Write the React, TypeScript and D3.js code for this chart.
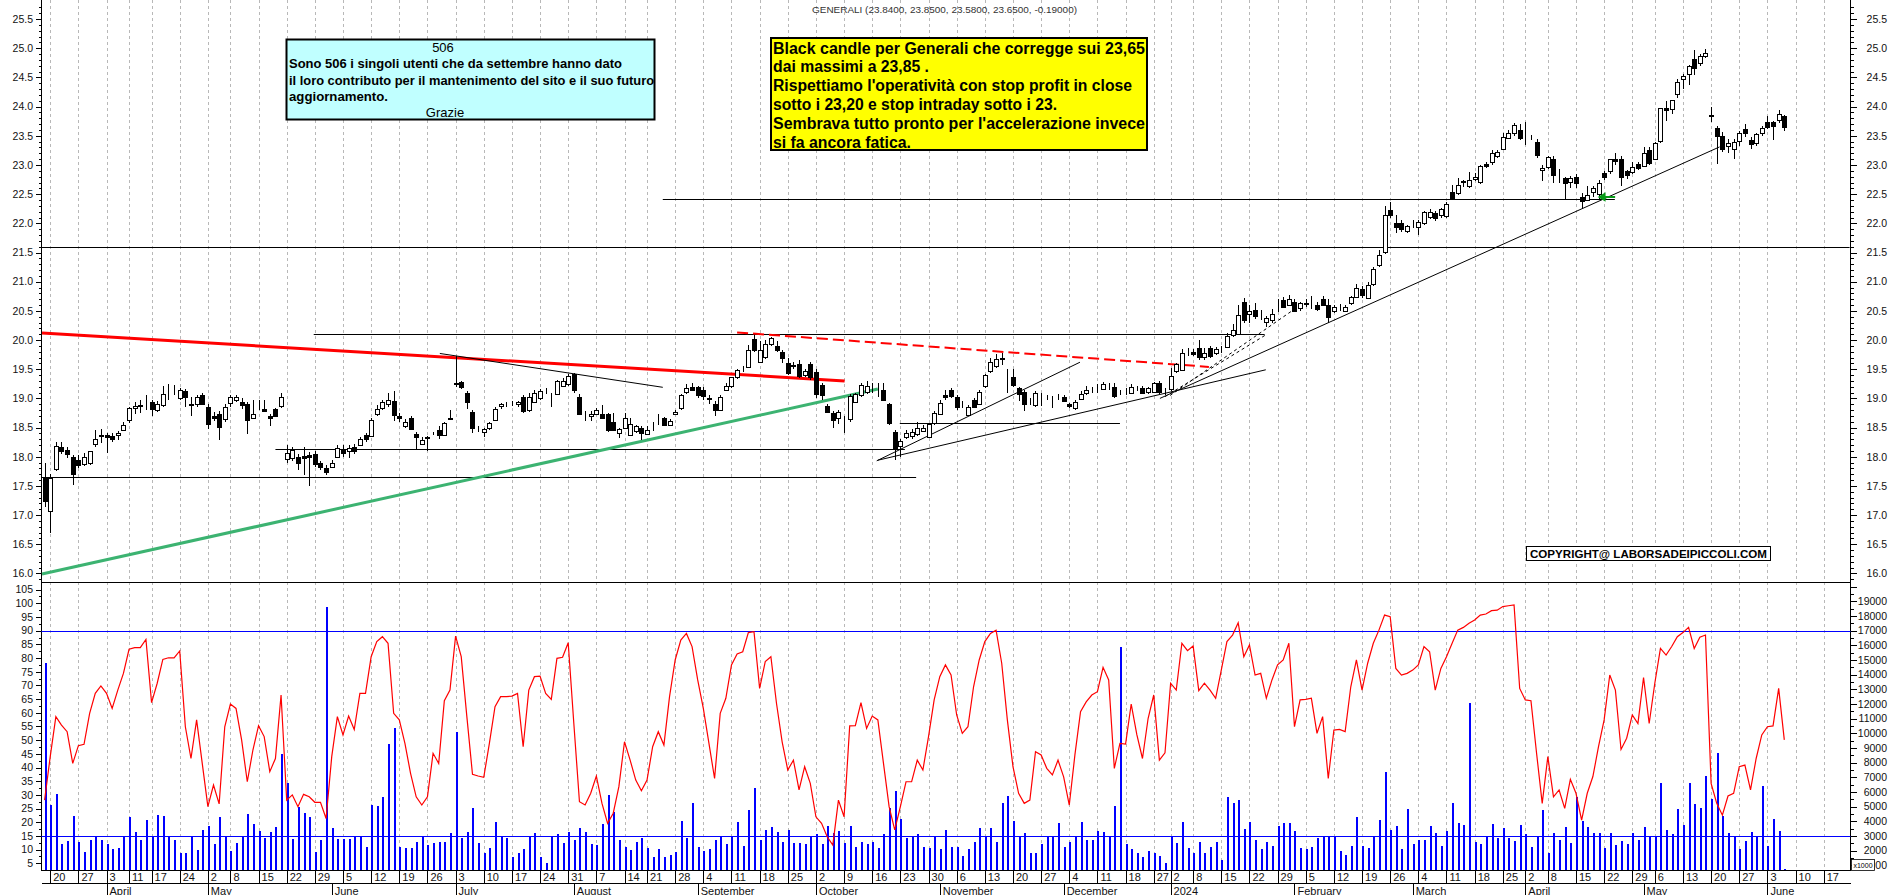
import React, { useRef, useEffect } from "react";
import * as d3 from "d3";

// Borsa Italiana closing days inside the range
const holidays = ["2023-04-07", "2023-04-10", "2023-05-01", "2023-08-15", "2023-12-25", "2023-12-26", "2024-01-01", "2024-03-29", "2024-04-01", "2024-05-01"];
const monthNames = ["2024", "February", "March", "April", "May", "June", "July", "August", "September", "October", "November", "December"];

const opens = [
  17.63, 17.06, 17.8, 18.17, 18.12, 18.0, 17.95, 17.87, 17.89, 18.23,
  18.37, 18.37, 18.36, 18.37, 18.47, 18.62, 18.83, 18.87, 18.95, 18.93,
  18.81, 18.88, 19.13, 19.13, 19.02, 19.13, 18.88, 18.9, 19.05, 18.86,
  18.7, 18.73, 18.65, 18.91, 18.97, 18.93, 18.9, 18.67, 18.88, 18.82,
  18.7, 18.82, 18.86, 17.96, 17.97, 18.0, 18.01, 18.03, 18.05, 17.89,
  17.8, 17.83, 18.0, 18.14, 18.1, 18.17, 18.2, 18.37, 18.36, 18.72,
  18.83, 18.9, 18.95, 18.69, 18.54, 18.67, 18.39, 18.23, 18.33, 18.4,
  18.46, 18.37, 18.65, 19.27, 19.28, 19.09, 18.76, 18.49, 18.42, 18.5,
  18.64, 18.86, 18.9, 18.9, 18.9, 19.02, 18.79, 18.95, 19.0, 19.13,
  19.07, 19.07, 19.21, 19.25, 19.42, 19.03, 18.72, 18.7, 18.74, 18.73,
  18.73, 18.6, 18.41, 18.49, 18.38, 18.43, 18.49, 18.4, 18.53, 18.57,
  18.66, 18.55, 18.74, 18.83, 19.11, 19.2, 19.19, 19.14, 19.0, 18.9,
  18.8, 19.15, 19.2, 19.36, 19.5, 19.54, 20.01, 19.63, 19.71, 19.94,
  19.89, 19.8, 19.6, 19.56, 19.59, 19.4, 19.59, 19.46, 19.23, 18.87,
  18.75, 18.66, 18.66, 18.64, 18.94, 19.06, 19.1, 19.17, 19.15, 19.14,
  18.9, 18.43, 18.19, 18.35, 18.37, 18.38, 18.45, 18.34, 18.58, 18.74,
  19.06, 19.14, 19.03, 18.89, 18.72, 18.97, 18.9, 19.21, 19.47, 19.55,
  19.7, 19.47, 19.36, 19.17, 19.11, 18.95, 18.89, 19.04, 19.02, 18.98,
  19.04, 19.03, 18.9, 18.83, 19.0, 19.09, 19.15, 19.15, 19.16, 19.21,
  19.19, 19.11, 19.11, 19.1, 19.17, 19.18, 19.11, 19.11, 19.26, 19.13,
  19.15, 19.47, 19.49, 19.8, 19.8, 19.86, 19.7, 19.86, 19.78, 19.83,
  19.89, 20.09, 20.11, 20.65, 20.45, 20.51, 20.44, 20.31, 20.34, 20.53,
  20.69, 20.6, 20.66, 20.54, 20.64, 20.64, 20.6, 20.71, 20.6, 20.49,
  20.57, 20.5, 20.62, 20.74, 20.87, 20.73, 20.95, 21.29, 21.51, 22.23,
  22.0, 22.0, 21.87, 21.99, 21.94, 22.01, 22.12, 22.17, 22.13, 22.13,
  22.53, 22.53, 22.7, 22.64, 22.77, 22.71, 23.01, 23.04, 23.17, 23.27,
  23.47, 23.55, 23.6, 23.47, 23.47, 23.4, 22.91, 22.96, 23.1, 22.87,
  22.77, 22.72, 22.8, 22.46, 22.4, 22.54, 22.51, 22.86, 22.9, 23.1,
  23.1, 22.9, 22.88, 23.01, 22.98, 23.26, 23.1, 23.4, 23.97, 23.95,
  24.23, 24.47, 24.56, 24.81, 24.74, 24.87, 23.86, 23.64, 23.5, 23.33,
  23.28, 23.4, 23.61, 23.43, 23.37, 23.54, 23.74, 23.74, 23.77, 23.84,
];

const highs = [
  17.89, 17.71, 18.26, 18.26, 18.16, 18.03, 18.03, 18.06, 18.1, 18.45,
  18.48, 18.4, 18.4, 18.44, 18.6, 18.85, 18.94, 18.98, 19.06, 18.97,
  18.95, 19.22, 19.25, 19.23, 19.17, 19.16, 19.03, 19.06, 19.1, 18.9,
  18.76, 18.78, 18.9, 19.05, 19.06, 19.0, 18.94, 18.97, 18.98, 18.98,
  18.74, 18.84, 19.09, 18.2, 18.17, 18.05, 18.17, 18.08, 18.1, 17.92,
  17.85, 17.95, 18.2, 18.2, 18.2, 18.21, 18.33, 18.4, 18.66, 18.88,
  18.97, 19.1, 19.12, 18.75, 18.64, 18.7, 18.42, 18.34, 18.36, 18.43,
  18.52, 18.59, 18.8, 19.73, 19.3, 19.12, 18.8, 18.52, 18.5, 18.6,
  18.86, 18.92, 18.93, 18.95, 18.96, 19.05, 19.1, 19.15, 19.16, 19.18,
  19.1, 19.31, 19.35, 19.42, 19.43, 19.08, 18.78, 18.78, 18.83, 18.88,
  18.75, 18.75, 18.5, 18.75, 18.66, 18.55, 18.52, 18.52, 18.6, 18.74,
  18.68, 18.65, 18.8, 19.08, 19.24, 19.26, 19.22, 19.2, 19.05, 18.95,
  19.06, 19.27, 19.36, 19.5, 19.56, 19.91, 20.08, 19.98, 20.0, 20.06,
  19.98, 19.83, 19.7, 19.62, 19.65, 19.5, 19.63, 19.5, 19.26, 18.9,
  18.78, 18.8, 18.7, 19.08, 19.09, 19.26, 19.3, 19.26, 19.27, 19.27,
  18.92, 18.45, 18.3, 18.45, 18.47, 18.59, 18.55, 18.58, 18.78, 18.98,
  19.14, 19.17, 19.05, 18.95, 18.88, 19.0, 19.15, 19.41, 19.7, 19.76,
  19.78, 19.5, 19.5, 19.2, 19.14, 19.0, 19.12, 19.09, 19.06, 19.04,
  19.07, 19.06, 18.92, 18.97, 19.12, 19.22, 19.2, 19.25, 19.28, 19.26,
  19.26, 19.15, 19.18, 19.24, 19.22, 19.22, 19.2, 19.28, 19.29, 19.18,
  19.52, 19.6, 19.85, 19.86, 19.85, 20.0, 19.86, 19.9, 19.88, 19.9,
  20.12, 20.27, 20.6, 20.72, 20.6, 20.64, 20.52, 20.42, 20.53, 20.71,
  20.74, 20.77, 20.7, 20.66, 20.7, 20.75, 20.66, 20.76, 20.7, 20.6,
  20.62, 20.6, 20.76, 20.96, 20.92, 21.0, 21.25, 21.55, 22.3, 22.36,
  22.15, 22.05, 21.98, 22.06, 22.06, 22.22, 22.24, 22.22, 22.27, 22.36,
  22.66, 22.77, 22.75, 22.88, 22.86, 23.0, 23.06, 23.26, 23.26, 23.54,
  23.6, 23.72, 23.7, 23.73, 23.52, 23.44, 23.0, 23.16, 23.15, 22.93,
  22.8, 22.82, 22.84, 22.52, 22.64, 22.64, 22.74, 22.9, 23.11, 23.2,
  23.15, 22.92, 23.05, 23.05, 23.3, 23.3, 23.4, 23.98, 24.1, 24.12,
  24.48, 24.56, 24.72, 24.97, 24.91, 24.99, 24.0, 23.66, 23.56, 23.45,
  23.45, 23.58, 23.7, 23.48, 23.55, 23.66, 23.84, 23.76, 23.95, 23.85,
];

const lows = [
  17.14, 16.69, 17.76, 18.05, 17.98, 17.52, 17.8, 17.84, 17.86, 18.17,
  18.23, 18.07, 18.25, 18.28, 18.45, 18.58, 18.74, 18.75, 18.8, 18.69,
  18.76, 18.85, 18.97, 19.05, 18.98, 18.86, 18.69, 18.86, 18.88, 18.48,
  18.62, 18.28, 18.6, 18.85, 18.94, 18.82, 18.39, 18.64, 18.8, 18.76,
  18.53, 18.68, 18.84, 17.89, 17.92, 17.78, 17.68, 17.49, 17.83, 17.78,
  17.68, 17.8, 17.97, 18.0, 17.97, 18.05, 18.18, 18.26, 18.33, 18.7,
  18.8, 18.85, 18.62, 18.6, 18.5, 18.45, 18.12, 18.2, 18.1, 18.37,
  18.3, 18.35, 18.63, 19.2, 19.16, 18.82, 18.4, 18.43, 18.33, 18.45,
  18.62, 18.82, 18.85, 18.87, 18.86, 18.75, 18.76, 18.92, 18.98, 19.08,
  18.86, 19.05, 19.19, 19.22, 19.1, 18.72, 18.62, 18.62, 18.72, 18.64,
  18.42, 18.44, 18.32, 18.47, 18.36, 18.4, 18.28, 18.38, 18.44, 18.55,
  18.52, 18.53, 18.72, 18.8, 19.08, 19.12, 19.0, 18.98, 18.9, 18.69,
  18.78, 19.12, 19.18, 19.33, 19.46, 19.52, 19.8, 19.6, 19.68, 19.9,
  19.8, 19.6, 19.4, 19.5, 19.35, 19.36, 19.32, 19.0, 18.98, 18.75,
  18.5, 18.56, 18.4, 18.6, 18.92, 19.02, 19.08, 19.1, 19.02, 18.95,
  18.55, 17.95, 18.0, 18.3, 18.3, 18.36, 18.42, 18.32, 18.55, 18.72,
  18.98, 19.0, 18.8, 18.83, 18.7, 18.83, 18.88, 19.18, 19.44, 19.52,
  19.58, 19.1, 19.2, 18.95, 18.78, 18.88, 18.86, 18.87, 18.97, 18.83,
  18.98, 18.94, 18.83, 18.8, 18.98, 19.06, 19.1, 19.09, 19.14, 19.15,
  19.0, 19.06, 19.06, 19.08, 19.12, 19.08, 19.08, 19.09, 19.08, 19.06,
  19.12, 19.44, 19.47, 19.72, 19.72, 19.65, 19.66, 19.7, 19.74, 19.77,
  19.86, 20.05, 20.08, 20.3, 20.3, 20.36, 20.34, 20.22, 20.3, 20.48,
  20.55, 20.58, 20.48, 20.5, 20.56, 20.54, 20.5, 20.58, 20.3, 20.46,
  20.5, 20.48, 20.6, 20.72, 20.72, 20.7, 20.92, 21.26, 21.48, 22.1,
  21.83, 21.86, 21.84, 21.92, 21.8, 21.98, 22.08, 22.04, 22.1, 22.1,
  22.4, 22.48, 22.62, 22.6, 22.72, 22.68, 22.95, 23.0, 23.12, 23.25,
  23.44, 23.5, 23.42, 23.35, 23.42, 23.12, 22.73, 22.94, 22.7, 22.7,
  22.4, 22.6, 22.6, 22.27, 22.38, 22.45, 22.4, 22.74, 22.85, 23.0,
  22.64, 22.76, 22.84, 22.92, 22.96, 23.0, 23.08, 23.38, 23.76, 23.88,
  24.14, 24.3, 24.37, 24.55, 24.7, 24.83, 23.74, 23.02, 23.22, 23.2,
  23.1, 23.32, 23.48, 23.27, 23.32, 23.5, 23.62, 23.42, 23.72, 23.58,
];

const closes = [
  17.23, 17.63, 18.19, 18.1, 18.05, 17.71, 17.87, 17.99, 18.09, 18.31,
  18.38, 18.33, 18.31, 18.41, 18.55, 18.83, 18.87, 18.88, 18.95, 18.81,
  18.91, 19.07, 19.13, 19.13, 19.15, 19.02, 18.9, 19.02, 18.9, 18.57,
  18.67, 18.51, 18.86, 19.02, 19.02, 18.88, 18.62, 18.73, 18.88, 18.79,
  18.66, 18.7, 19.02, 18.06, 18.11, 17.9, 17.98, 18.0, 17.88, 17.82,
  17.73, 17.9, 18.15, 18.07, 18.15, 18.1, 18.31, 18.31, 18.63, 18.81,
  18.93, 18.97, 18.71, 18.65, 18.6, 18.48, 18.34, 18.29, 18.32, 18.4,
  18.37, 18.57, 18.66, 19.25, 19.19, 18.93, 18.49, 18.49, 18.47, 18.58,
  18.82, 18.9, 18.9, 18.9, 18.93, 18.78, 19.02, 19.1, 19.12, 19.13,
  19.07, 19.29, 19.29, 19.39, 19.15, 18.74, 18.72, 18.74, 18.8, 18.67,
  18.46, 18.46, 18.47, 18.66, 18.56, 18.52, 18.4, 18.46, 18.53, 18.57,
  18.54, 18.62, 18.77, 19.06, 19.18, 19.15, 19.06, 19.03, 18.98, 18.8,
  19.03, 19.21, 19.36, 19.48, 19.5, 19.83, 19.83, 19.83, 19.94, 20.04,
  19.83, 19.69, 19.43, 19.58, 19.38, 19.47, 19.36, 19.09, 19.06, 18.77,
  18.63, 18.76, 18.66, 19.04, 19.07, 19.23, 19.21, 19.17, 19.15, 18.97,
  18.57, 18.14, 18.27, 18.41, 18.43, 18.49, 18.5, 18.56, 18.75, 18.92,
  19.02, 19.04, 18.86, 18.89, 18.86, 18.85, 19.11, 19.4, 19.63, 19.67,
  19.68, 19.47, 19.23, 19.06, 18.91, 18.95, 19.09, 19.04, 19.02, 18.98,
  19.04, 18.96, 18.86, 18.94, 19.08, 19.14, 19.15, 19.15, 19.24, 19.21,
  19.03, 19.11, 19.11, 19.2, 19.17, 19.1, 19.17, 19.26, 19.11, 19.13,
  19.38, 19.59, 19.78, 19.8, 19.77, 19.7, 19.77, 19.73, 19.85, 19.83,
  20.07, 20.17, 20.43, 20.34, 20.5, 20.4, 20.44, 20.38, 20.44, 20.53,
  20.57, 20.71, 20.51, 20.63, 20.62, 20.64, 20.54, 20.6, 20.4, 20.56,
  20.57, 20.56, 20.73, 20.89, 20.76, 20.95, 21.21, 21.46, 22.15, 22.14,
  21.94, 21.9, 21.95, 21.99, 22.03, 22.19, 22.2, 22.09, 22.24, 22.33,
  22.43, 22.66, 22.72, 22.75, 22.8, 22.98, 22.98, 23.2, 23.23, 23.48,
  23.55, 23.69, 23.47, 23.47, 23.47, 23.17, 22.95, 23.13, 22.82, 22.87,
  22.69, 22.78, 22.69, 22.4, 22.48, 22.6, 22.69, 22.79, 23.11, 23.06,
  22.79, 22.83, 22.97, 22.95, 23.21, 23.03, 23.37, 23.97, 23.94, 24.11,
  24.43, 24.52, 24.7, 24.65, 24.86, 24.92, 23.84, 23.5, 23.27, 23.38,
  23.4, 23.54, 23.55, 23.37, 23.53, 23.63, 23.66, 23.68, 23.87, 23.65,
];

// volume in thousands of shares
const volumes = [
  14.8, 5.11, 5.84, 2.45, 2.68, 4.36, 2.57, 1.93, 2.73, 3.0,
  2.73, 2.45, 2.09, 2.2, 3.02, 4.32, 3.25, 2.73, 4.09, 2.95,
  4.43, 4.36, 3.02, 2.73, 1.86, 1.82, 3.02, 2.04, 3.41, 3.68,
  2.43, 4.27, 3.02, 1.97, 2.5, 3.02, 4.48, 3.8, 3.34, 2.84,
  3.25, 3.63, 8.59, 6.59, 2.79, 5.0, 4.54, 4.27, 1.93, 2.73,
  18.64, 3.52, 2.79, 2.79, 2.79, 3.02, 3.02, 2.27, 5.11, 5.07,
  5.68, 9.27, 10.34, 2.27, 2.16, 2.2, 2.57, 3.02, 2.38, 2.5,
  2.57, 2.57, 3.18, 10.11, 2.88, 3.29, 4.88, 2.5, 1.82, 2.16,
  3.93, 3.02, 2.88, 1.59, 1.86, 2.09, 2.95, 3.18, 1.59, 1.13,
  2.91, 3.13, 2.5, 3.29, 2.73, 3.57, 3.29, 2.45, 2.38, 3.8,
  5.79, 4.66, 2.73, 2.27, 2.04, 2.57, 2.88, 2.2, 1.59, 2.11,
  1.54, 1.7, 1.93, 4.04, 2.84, 5.27, 2.27, 1.97, 2.11, 2.73,
  3.02, 2.43, 3.02, 3.93, 2.34, 4.77, 6.25, 2.73, 3.41, 3.59,
  3.25, 2.57, 3.41, 2.5, 2.5, 2.43, 3.02, 3.13, 2.45, 3.7,
  3.18, 3.36, 2.5, 3.7, 2.27, 2.57, 2.43, 2.57, 2.2, 3.11,
  4.93, 6.07, 4.13, 2.88, 3.0, 3.11, 2.27, 2.2, 3.02, 2.09,
  3.41, 2.22, 2.27, 1.63, 2.09, 2.61, 3.52, 2.91, 3.52, 2.61,
  5.23, 5.73, 4.02, 3.02, 3.23, 1.82, 1.86, 2.45, 3.02, 3.02,
  3.91, 2.27, 2.61, 3.02, 3.93, 2.73, 2.73, 3.34, 3.25, 3.02,
  5.04, 15.91, 2.43, 2.09, 1.82, 1.59, 1.97, 1.82, 1.63, 1.13,
  3.02, 2.5, 3.97, 2.16, 1.82, 2.61, 1.86, 2.22, 2.57, 1.36,
  5.68, 5.27, 5.45, 3.47, 3.93, 2.7, 2.11, 2.59, 2.34, 3.68,
  3.86, 3.86, 3.36, 2.16, 2.11, 2.22, 2.88, 3.02, 3.02, 3.02,
  1.95, 1.7, 2.34, 4.27, 2.34, 2.16, 3.02, 4.09, 7.34, 3.41,
  3.68, 2.09, 4.82, 2.43, 2.73, 2.73, 3.68, 3.23, 2.32, 3.34,
  5.27, 3.86, 3.75, 12.05, 2.61, 2.45, 3.02, 3.8, 2.88, 3.52,
  2.88, 2.66, 3.75, 3.13, 2.27, 3.02, 4.77, 1.86, 3.18, 2.73,
  3.59, 2.5, 5.63, 4.04, 3.59, 3.18, 3.18, 2.2, 3.18, 2.38,
  2.68, 2.45, 3.18, 2.73, 3.59, 3.02, 3.02, 6.64, 3.41, 3.13,
  4.82, 3.75, 6.64, 5.16, 4.88, 7.09, 5.52, 8.64, 4.36, 3.23,
  3.02, 2.11, 2.66, 3.25, 3.02, 6.41, 2.34, 4.16, 3.36, 0.75,
];

// oscillator (0-100) plotted as the red line
const oscillator = [
  28.1, 44.0, 58.6, 55.5, 53.1, 41.5, 48.0, 48.5, 59.8, 67.1,
  69.8, 67.1, 61.6, 68.3, 74.4, 83.2, 83.8, 83.8, 86.8, 63.7,
  70.8, 79.5, 80.1, 80.1, 82.6, 54.9, 43.3, 57.4, 41.5, 25.7,
  33.6, 26.7, 54.9, 63.2, 61.6, 50.0, 34.8, 46.4, 55.3, 51.3,
  38.5, 43.3, 66.5, 28.1, 30.0, 25.7, 30.2, 29.3, 27.3, 27.3,
  21.4, 44.0, 58.6, 51.9, 58.8, 53.9, 67.1, 67.1, 80.5, 86.0,
  87.8, 85.4, 59.8, 57.4, 48.8, 37.9, 29.3, 26.3, 29.3, 45.2,
  41.5, 64.4, 68.3, 88.0, 80.5, 58.6, 37.5, 36.9, 36.4, 48.8,
  62.2, 65.9, 65.9, 66.1, 67.1, 47.6, 68.3, 73.2, 73.4, 67.1,
  64.9, 79.9, 80.3, 85.6, 56.1, 27.5, 26.3, 30.6, 36.9, 26.9,
  19.6, 23.3, 33.0, 49.4, 42.7, 35.4, 31.5, 35.4, 47.6, 53.1,
  48.2, 65.9, 79.3, 86.6, 89.0, 84.2, 72.0, 61.6, 48.8, 36.0,
  59.8, 65.3, 77.5, 81.5, 82.3, 89.3, 89.6, 68.9, 78.7, 80.5,
  63.4, 49.4, 39.1, 42.7, 31.8, 40.3, 34.2, 22.0, 19.6, 14.7,
  11.7, 28.1, 22.0, 55.2, 55.3, 63.7, 54.3, 58.8, 57.4, 41.5,
  25.7, 17.2, 25.7, 34.8, 34.8, 42.7, 39.1, 51.3, 64.7, 73.2,
  77.5, 73.8, 59.2, 52.5, 54.9, 69.5, 79.3, 86.0, 89.0, 90.2,
  78.1, 57.4, 40.3, 30.6, 26.9, 28.1, 45.8, 44.6, 39.7, 37.3,
  42.7, 36.6, 26.3, 44.6, 60.4, 64.0, 66.5, 67.7, 76.6, 72.0,
  39.7, 48.8, 48.6, 63.2, 52.0, 43.3, 57.9, 66.5, 42.7, 45.4,
  70.8, 68.3, 85.4, 82.7, 84.4, 68.1, 70.8, 68.3, 65.3, 75.6,
  86.0, 88.4, 92.9, 80.5, 84.8, 73.8, 74.4, 65.3, 72.0, 77.5,
  79.3, 85.4, 54.9, 64.7, 64.9, 65.3, 52.5, 58.6, 36.0, 53.7,
  53.9, 53.1, 69.5, 79.3, 68.3, 78.1, 85.4, 90.2, 95.7, 95.1,
  76.2, 73.8, 74.4, 75.6, 77.5, 84.2, 82.3, 68.3, 76.2, 80.5,
  85.4, 90.2, 91.2, 92.7, 93.9, 95.7, 96.1, 97.3, 97.5, 98.8,
  99.1, 99.4, 68.9, 64.7, 64.4, 45.2, 26.9, 44.0, 29.3, 31.8,
  25.1, 35.7, 30.6, 20.8, 30.6, 36.7, 47.6, 57.4, 73.8, 68.3,
  46.6, 50.7, 59.2, 56.1, 72.9, 56.1, 70.8, 83.5, 81.1, 84.2,
  87.8, 89.3, 91.2, 83.5, 87.6, 88.4, 34.2, 26.9, 22.6, 29.6,
  30.6, 40.3, 40.9, 31.8, 43.3, 51.9, 54.9, 55.2, 68.9, 50.1,
];

const priceTicks = [16, 16.5, 17, 17.5, 18, 18.5, 19, 19.5, 20, 20.5, 21, 21.5, 22, 22.5, 23, 23.5, 24, 24.5, 25, 25.5];
const oscTicks = [5, 10, 15, 20, 25, 30, 35, 40, 45, 50, 55, 60, 65, 70, 75, 80, 85, 90, 95, 100, 105];
const volTicks = [2, 3, 4, 5, 6, 7, 8, 9, 10, 11, 12, 13, 14, 15, 16, 17, 18, 19];
const oscLevels = [90, 15];

// drawn studies, in (bar index, price)
const horizontals = [
  { i1: -0.6, i2: 320.6, p: 21.59 },
  { i1: 109.8, i2: 278.9, p: 22.41 },
  { i1: 47.8, i2: 216.7, p: 20.1 },
  { i1: 41.0, i2: 152.8, p: 18.14 },
  { i1: -0.6, i2: 154.8, p: 17.65 },
  { i1: 151.9, i2: 191.0, p: 18.57 },
];
const thinLines = [
  { i1: 70.2, p1: 19.77, i2: 109.8, p2: 19.19 },
  { i1: 147.8, p1: 17.93, i2: 183.9, p2: 19.62 },
  { i1: 148.0, p1: 17.94, i2: 216.9, p2: 19.49 },
  { i1: 198.1, p1: 19.0, i2: 297.5, p2: 23.31 },
];
const dottedLines = [
  { i1: 199.0, p1: 19.03, i2: 217.1, p2: 20.1 },
  { i1: 199.9, p1: 19.05, i2: 222.6, p2: 20.57 },
];
const redLine = { i1: -0.46, p1: 20.12, i2: 142.1, p2: 19.3 };
const redDashed = { i1: 123.0, p1: 20.13, i2: 206.8, p2: 19.54 };
const greenLine = { i1: -0.46, p1: 15.99, i2: 148.0, p2: 19.16 };
const arrowMark = { i1: 276.9, i2: 278.6, p: 22.45 };

const noteLines = [
  "Black candle per Generali che corregge sui 23,65",
  "dai massimi a 23,85 .",
  "Rispettiamo l'operatività con stop profit in close",
  "sotto i 23,20 e stop intraday sotto i 23.",
  "Sembrava tutto pronto per l'accelerazione invece",
  "si fa ancora fatica.",
];
const noteWidths = [372, 156, 359, 284, 372, 138];
const thanksLines = [
  "Sono 506 i singoli utenti che da settembre hanno dato",
  "il loro contributo per il mantenimento del sito e il suo futuro",
  "aggiornamento.",
];
const thanksWidths = [333, 365, 99];

function tradingDays(count: number) {
  const fmt = d3.timeFormat("%Y-%m-%d");
  const out: Date[] = [];
  const d = new Date(2023, 2, 17);
  while (out.length < count) {
    const dow = d.getDay();
    if (dow !== 0 && dow !== 6 && !holidays.includes(fmt(d))) out.push(new Date(d));
    d.setDate(d.getDate() + 1);
  }
  return out;
}

function App() {
  const svgRef = useRef<SVGSVGElement>(null);

  useEffect(() => {
    const svg = d3.select(svgRef.current);
    svg.selectAll("*").remove();
    const font = "'Liberation Sans', Arial, sans-serif";
    const narrow = "'Liberation Sans Narrow', 'Arial Narrow', 'Liberation Sans', sans-serif";

    const left = 41.5, right = 1850.5, split = 582.5, bottom = 870.5;
    const dates = tradingDays(321);

    const x = d3.scaleLinear().domain([0, 309]).range([44.6, 1784.3]);
    const y = d3.scaleLinear().domain([15.853, 25.828]).range([582, 0]);
    const oy = d3.scaleLinear().domain([2.56, 107.53]).range([870, 582.7]);
    const vy = d3.scaleLinear().domain([0.675, 20.27]).range([870, 582.7]);

    const weekStarts = dates
      .map((d, i) => ({ d, i }))
      .filter(({ d, i }) => i > 0 && d.getDay() <= dates[i - 1].getDay());
    const monthStarts = dates
      .map((d, i) => ({ d, i }))
      .filter(({ d, i }) => i > 0 && d.getMonth() !== dates[i - 1].getMonth());

    // grid
    svg.append("g")
      .selectAll("line")
      .data(weekStarts)
      .enter()
      .append("line")
      .attr("x1", ({ i }) => Math.round(x(i)) + 0.5)
      .attr("x2", ({ i }) => Math.round(x(i)) + 0.5)
      .attr("y1", 0)
      .attr("y2", bottom)
      .attr("stroke", "#b8b8b8")
      .attr("stroke-dasharray", "3,3");

    const frame = svg.append("g").attr("stroke", "#000").attr("shape-rendering", "crispEdges");
    frame.append("line").attr("x1", left).attr("x2", left).attr("y1", 0).attr("y2", bottom);
    frame.append("line").attr("x1", right).attr("x2", right).attr("y1", 0).attr("y2", bottom);
    frame.append("line").attr("x1", left).attr("x2", right).attr("y1", split).attr("y2", split);
    frame.append("line").attr("x1", left).attr("x2", right).attr("y1", bottom).attr("y2", bottom);
    frame.append("line").attr("x1", left).attr("x2", right).attr("y1", 883.5).attr("y2", 883.5);

    // price axis ticks
    const minor = d3.range(159, 258).map((v) => v / 10);
    [[left, -1], [right, 1]].forEach(([ax, dir]) => {
      frame.selectAll(null)
        .data(minor)
        .enter()
        .append("line")
        .attr("x1", ax)
        .attr("x2", (v) => ax + dir * (Math.abs(v * 2 - Math.round(v * 2)) < 0.01 ? 6 : 3))
        .attr("y1", (v) => Math.round(y(v)) + 0.5)
        .attr("y2", (v) => Math.round(y(v)) + 0.5);
    });
    const lbl = svg.append("g").attr("font-family", font).attr("font-size", 10.5).attr("fill", "#111");
    lbl.selectAll(null).data(priceTicks).enter().append("text")
      .attr("x", 33).attr("y", (v) => y(v) + 3.8).attr("text-anchor", "end").text((v) => v.toFixed(1));
    lbl.selectAll(null).data(priceTicks).enter().append("text")
      .attr("x", 1887).attr("y", (v) => y(v) + 3.8).attr("text-anchor", "end").text((v) => v.toFixed(1));

    // lower panel axes
    const oscMinor = d3.range(5, 107, 2.5);
    frame.selectAll(null).data(oscMinor).enter().append("line")
      .attr("x1", left).attr("x2", (v) => left - (v % 5 === 0 ? 6 : 3))
      .attr("y1", (v) => Math.round(oy(v)) + 0.5).attr("y2", (v) => Math.round(oy(v)) + 0.5);
    lbl.selectAll(null).data(oscTicks).enter().append("text")
      .attr("x", 33).attr("y", (v) => oy(v) + 3.8).attr("text-anchor", "end").text((v) => v);
    const volMinor = d3.range(1, 20.1, 0.5);
    frame.selectAll(null).data(volMinor).enter().append("line")
      .attr("x1", right).attr("x2", (v) => right + (v % 1 === 0 ? 6 : 3))
      .attr("y1", (v) => Math.round(vy(v)) + 0.5).attr("y2", (v) => Math.round(vy(v)) + 0.5);
    lbl.selectAll(null).data(volTicks).enter().append("text")
      .attr("x", 1887).attr("y", (v) => vy(v) + 3.8).attr("text-anchor", "end").text((v) => v * 1000);
    // the 1000 label is mostly hidden behind the unit box: only "00" shows
    lbl.append("text").attr("x", 1887).attr("y", vy(1) + 3.8).attr("text-anchor", "end").text("00");
    const xbox = svg.append("g");
    xbox.append("rect").attr("x", 1851.5).attr("y", 859.5).attr("width", 23).attr("height", 11)
      .attr("fill", "#fff").attr("stroke", "#000").attr("stroke-width", 0.8);
    xbox.append("text").attr("x", 1863).attr("y", 868).attr("text-anchor", "middle")
      .attr("font-family", font).attr("font-size", 7).text("x1000");

    // date axis
    const dayRow = svg.append("g");
    dayRow.selectAll("line").data(weekStarts).enter().append("line")
      .attr("x1", ({ i }) => Math.round(x(i)) + 0.5).attr("x2", ({ i }) => Math.round(x(i)) + 0.5)
      .attr("y1", bottom).attr("y2", 883.5).attr("stroke", "#000").attr("shape-rendering", "crispEdges");
    dayRow.selectAll("text").data(weekStarts).enter().append("text")
      .attr("x", ({ i }) => x(i) + 3).attr("y", 881).attr("font-family", narrow).attr("font-size", 11)
      .attr("fill", "#111").text(({ d }) => d.getDate());
    const monthRow = svg.append("g");
    monthRow.selectAll("line").data(monthStarts).enter().append("line")
      .attr("x1", ({ i }) => Math.round(x(i)) + 0.5).attr("x2", ({ i }) => Math.round(x(i)) + 0.5)
      .attr("y1", 883.5).attr("y2", 895).attr("stroke", "#000").attr("shape-rendering", "crispEdges");
    monthRow.selectAll("text").data(monthStarts).enter().append("text")
      .attr("x", ({ i }) => x(i) + 3).attr("y", 894.5).attr("font-family", narrow).attr("font-size", 11)
      .attr("fill", "#111").text(({ d }) => monthNames[d.getMonth()]);

    // studies under candles
    const seg = (g: any, s: any) =>
      g.append("line").attr("x1", x(s.i1)).attr("y1", y(s.p1)).attr("x2", x(s.i2)).attr("y2", y(s.p2));
    const studies = svg.append("g");
    horizontals.forEach((h) =>
      studies.append("line")
        .attr("x1", Math.max(left, x(h.i1))).attr("x2", Math.min(right, x(h.i2)))
        .attr("y1", Math.round(y(h.p)) + 0.5).attr("y2", Math.round(y(h.p)) + 0.5)
        .attr("stroke", "#000").attr("stroke-width", 1.2));
    seg(studies, redLine).attr("stroke", "#ff0000").attr("stroke-width", 3);
    seg(studies, redDashed).attr("stroke", "#ff0000").attr("stroke-width", 2).attr("stroke-dasharray", "11,5");
    seg(studies, greenLine).attr("stroke", "#3cb371").attr("stroke-width", 3);
    thinLines.forEach((s) => seg(studies, s).attr("stroke", "#000").attr("stroke-width", 1));
    dottedLines.forEach((s) => seg(studies, s).attr("stroke", "#000").attr("stroke-width", 1).attr("stroke-dasharray", "3,3"));

    // candles
    const candles = closes.map((c, i) => ({ i, o: opens[i], h: highs[i], l: lows[i], c }));
    const cg = svg.append("g").attr("shape-rendering", "crispEdges");
    cg.selectAll("line").data(candles).enter().append("line")
      .attr("x1", (d) => Math.round(x(d.i)) + 0.5).attr("x2", (d) => Math.round(x(d.i)) + 0.5)
      .attr("y1", (d) => y(d.h)).attr("y2", (d) => y(d.l)).attr("stroke", "#000");
    cg.selectAll("rect").data(candles).enter().append("rect")
      .attr("x", (d) => Math.round(x(d.i)) - 1.5)
      .attr("y", (d) => Math.round(y(Math.max(d.o, d.c))) + 0.5)
      .attr("width", 4)
      .attr("height", (d) => Math.max(0, Math.round(Math.abs(y(d.o) - y(d.c)))))
      .attr("fill", (d) => (d.c >= d.o ? "#fff" : "#000"))
      .attr("stroke", "#000");

    // green arrow
    const ay = y(arrowMark.p);
    svg.append("path")
      .attr("d", `M${x(arrowMark.i1) - 4},${ay} L${x(arrowMark.i1) + 1},${ay - 3} L${x(arrowMark.i1) + 1},${ay + 3} Z M${x(arrowMark.i1)},${ay} L${x(arrowMark.i2) + 2},${ay}`)
      .attr("fill", "#0a9a1a").attr("stroke", "#0a9a1a").attr("stroke-width", 2);

    // volume and oscillator
    const vg = svg.append("g").attr("shape-rendering", "crispEdges");
    vg.selectAll("rect").data(volumes).enter().append("rect")
      .attr("x", (v, i) => Math.round(x(i)) - 0.5)
      .attr("y", (v) => vy(v))
      .attr("width", 2)
      .attr("height", (v) => Math.max(0.5, 870 - vy(v)))
      .attr("fill", "#0000ff");
    oscLevels.forEach((lv) =>
      svg.append("line").attr("x1", left).attr("x2", right)
        .attr("y1", Math.round(oy(lv)) + 0.5).attr("y2", Math.round(oy(lv)) + 0.5)
        .attr("stroke", "#0000ff").attr("stroke-width", 1.2));
    const oscLine = d3.line<number>().x((v, i) => x(i)).y((v) => oy(v));
    svg.append("path").attr("d", oscLine(oscillator)).attr("fill", "none").attr("stroke", "#ff0000").attr("stroke-width", 1.2);

    // title
    svg.append("text").attr("x", 812).attr("y", 12.5).attr("font-family", font).attr("font-size", 9.5)
      .attr("fill", "#333").attr("textLength", 265).attr("lengthAdjust", "spacingAndGlyphs")
      .text(`GENERALI (23.8400, 23.8500, 23.5800, 23.6500, -0.19000)`);

    // notes
    const cy = svg.append("g").attr("font-family", narrow).attr("fill", "#000");
    cy.append("rect").attr("x", 286.5).attr("y", 39.5).attr("width", 368).attr("height", 80)
      .attr("fill", "#c0ffff").attr("stroke", "#000").attr("stroke-width", 2);
    cy.append("text").attr("x", 443).attr("y", 52).attr("text-anchor", "middle").attr("font-size", 13).text("506");
    thanksLines.forEach((t, k) =>
      cy.append("text").attr("x", 289).attr("y", 68 + k * 16.5).attr("font-size", 13).attr("font-weight", "bold")
        .attr("textLength", thanksWidths[k]).attr("lengthAdjust", "spacingAndGlyphs").text(t));
    cy.append("text").attr("x", 445).attr("y", 117).attr("text-anchor", "middle").attr("font-size", 13).text("Grazie");

    const yb = svg.append("g").attr("font-family", narrow).attr("fill", "#000").attr("font-weight", "bold");
    yb.append("rect").attr("x", 771).attr("y", 38).attr("width", 376).attr("height", 112)
      .attr("fill", "#ffff00").attr("stroke", "#000").attr("stroke-width", 2);
    noteLines.forEach((t, k) =>
      yb.append("text").attr("x", 773).attr("y", 53.5 + k * 18.8).attr("font-size", 16)
        .attr("textLength", noteWidths[k]).attr("lengthAdjust", "spacingAndGlyphs").text(t));

    const cp = svg.append("g");
    cp.append("rect").attr("x", 1526.5).attr("y", 546.5).attr("width", 244).attr("height", 14)
      .attr("fill", "#fff").attr("stroke", "#000").attr("stroke-width", 1);
    cp.append("text").attr("x", 1530).attr("y", 557.5).attr("font-family", font).attr("font-size", 10)
      .attr("font-weight", "bold").attr("textLength", 237).attr("lengthAdjust", "spacingAndGlyphs")
      .text("COPYRIGHT@ LABORSADEIPICCOLI.COM");
  }, []);

  return (
    <svg
      ref={svgRef}
      width={1890}
      height={895}
      style={{ position: "absolute", left: 0, top: 0, background: "#fff" }}
    ></svg>
  );
}

export default App;
